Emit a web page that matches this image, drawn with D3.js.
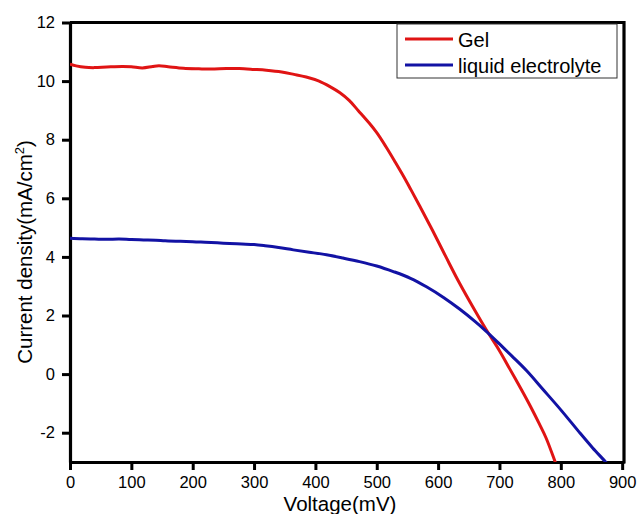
<!DOCTYPE html>
<html>
<head>
<meta charset="utf-8">
<script src="https://cdn.jsdelivr.net/npm/d3@7"></script>
<style>
  body { margin: 0; background: #fff; }
  text { font-family: Arial, "Liberation Sans", sans-serif; }
</style>
</head>
<body>
<div id="chart-area"></div>
<script>
// STEP 1: data
const voltageGel = [0, 10, 25, 40, 60, 85, 100, 118, 135, 145, 160, 185, 210, 230, 255, 276, 300, 320, 345, 365, 385, 406, 423, 440, 455, 470, 488, 500, 515, 530, 542, 555, 570, 591, 613, 635, 660, 678, 700, 717, 735, 750, 765, 776, 790, 796]
const currentGel = [10.58, 10.52, 10.47, 10.46, 10.48, 10.50, 10.49, 10.45, 10.50, 10.52, 10.49, 10.44, 10.42, 10.41, 10.43, 10.43, 10.40, 10.37, 10.31, 10.23, 10.14, 10.00, 9.82, 9.60, 9.34, 8.99, 8.56, 8.24, 7.76, 7.24, 6.81, 6.32, 5.74, 4.90, 3.99, 3.10, 2.17, 1.53, 0.80, 0.17, -0.50, -1.08, -1.70, -2.18, -2.95, -3.3]

const voltageLiquid = [0, 20, 40, 60, 80, 100, 120, 140, 155, 180, 200, 220, 240, 260, 280, 300, 318, 340, 364, 390, 418, 445, 472, 500, 527, 555, 581, 610, 635, 660, 678, 700, 720, 744, 770, 800, 830, 852, 873, 880]
const currentLiquid = [4.64, 4.62, 4.61, 4.60, 4.61, 4.59, 4.58, 4.57, 4.55, 4.53, 4.52, 4.50, 4.48, 4.46, 4.44, 4.42, 4.38, 4.32, 4.24, 4.16, 4.07, 3.96, 3.84, 3.69, 3.50, 3.27, 2.98, 2.60, 2.22, 1.80, 1.47, 1.03, 0.62, 0.12, -0.50, -1.22, -1.98, -2.52, -3.0, -3.18]

const xTicks = [0, 100, 200, 300, 400, 500, 600, 700, 800, 900]
const yTicks = [-2, 0, 2, 4, 6, 8, 10, 12]
const seriesNames = ["Gel", "liquid electrolyte"]
const seriesColors = ["#e01414", "#1212a4"]

const WIDTH = 638, HEIGHT = 514
const PLOT = {left: 70, right: 624, top: 22.5, bottom: 462}

const svg = d3.select("#chart-area").append("svg")
            .attr("width", WIDTH)
            .attr("height", HEIGHT)

// ---------------------------//
//       AXIS AND SCALE       //
// ---------------------------//

const xScale = d3.scaleLinear()
               .domain([0, 903])
               .range([PLOT.left, PLOT.right])

const yScale = d3.scaleLinear()
               .domain([-3, 12])
               .range([PLOT.bottom, PLOT.top])

// plain hyphen for negatives, like the original
const fmt = d => String(d)

const xAxis = svg.append("g")
     .attr("transform", `translate(0,${PLOT.bottom})`)
     .call(d3.axisBottom(xScale).tickValues(xTicks).tickFormat(fmt).tickSize(8).tickSizeOuter(0).tickPadding(6))

const yAxis = svg.append("g")
     .attr("transform", `translate(${PLOT.left},0)`)
     .call(d3.axisLeft(yScale).tickValues(yTicks).tickFormat(fmt).tickSize(8).tickSizeOuter(0).tickPadding(7))

for (const ax of [xAxis, yAxis]) {
    ax.select(".domain").attr("stroke", "#000").attr("stroke-width", 3.2)
    ax.selectAll(".tick line").attr("stroke", "#000").attr("stroke-width", 3)
    ax.selectAll(".tick text")
      .attr("fill", "#000")
      .style("font-size", "16.5px")
      .style("font-family", "Arial, 'Liberation Sans', sans-serif")
}

// top and right frame
svg.append("path")
   .attr("d", `M${PLOT.left},${PLOT.top}H${PLOT.right}V${PLOT.bottom + 1.6}`)
   .attr("fill", "none")
   .attr("stroke", "#000")
   .attr("stroke-width", 3.2)

// axis titles
svg.append("text")
   .attr("x", 340)
   .attr("y", 511)
   .attr("text-anchor", "middle")
   .style("font-size", "20.5px")
   .text("Voltage(mV)")

const yTitle = svg.append("text")
   .attr("transform", "translate(32,252) rotate(-90)")
   .attr("text-anchor", "middle")
   .style("font-size", "20.5px")
yTitle.append("tspan").text("Current density(mA/cm")
yTitle.append("tspan").attr("dy", -8).style("font-size", "13px").text("2")
yTitle.append("tspan").attr("dy", 8).text(")")

// ---------------------------//
//           CURVES           //
// ---------------------------//

const series = [
    {name: seriesNames[0], color: seriesColors[0], v: voltageGel, j: currentGel},
    {name: seriesNames[1], color: seriesColors[1], v: voltageLiquid, j: currentLiquid},
]

const line = d3.line()
               .x(d => xScale(d[0]))
               .y(d => yScale(d[1]))
               .curve(d3.curveCatmullRom.alpha(0.5))

svg.append("clipPath").attr("id", "plot-clip")
   .append("rect")
   .attr("x", PLOT.left).attr("y", PLOT.top)
   .attr("width", PLOT.right - PLOT.left).attr("height", PLOT.bottom - PLOT.top)

svg.append("g")
   .attr("clip-path", "url(#plot-clip)")
   .selectAll("path")
   .data(series)
   .enter()
   .append("path")
   .attr("d", s => line(s.v.map((v, i) => [v, s.j[i]])))
   .attr("fill", "none")
   .attr("stroke", s => s.color)
   .attr("stroke-width", 3)
   .attr("stroke-linejoin", "round")

// ---------------------------//
//           LEGEND           //
// ---------------------------//

const legend = svg.append("g").attr("transform", "translate(397,24)")

legend.append("rect")
      .attr("width", 220)
      .attr("height", 54)
      .attr("fill", "#fff")
      .attr("stroke", "#333")
      .attr("stroke-width", 1)

const items = legend.selectAll(".item")
      .data(series)
      .enter()
      .append("g")
      .attr("transform", (d, i) => `translate(0,${15 + i * 26})`)

items.append("line")
     .attr("x1", 8).attr("x2", 56)
     .attr("stroke", d => d.color)
     .attr("stroke-width", 3)

items.append("text")
     .attr("x", 61)
     .attr("y", 8)
     .style("font-size", "20px")
     .text(d => d.name)
</script>
</body>
</html>
